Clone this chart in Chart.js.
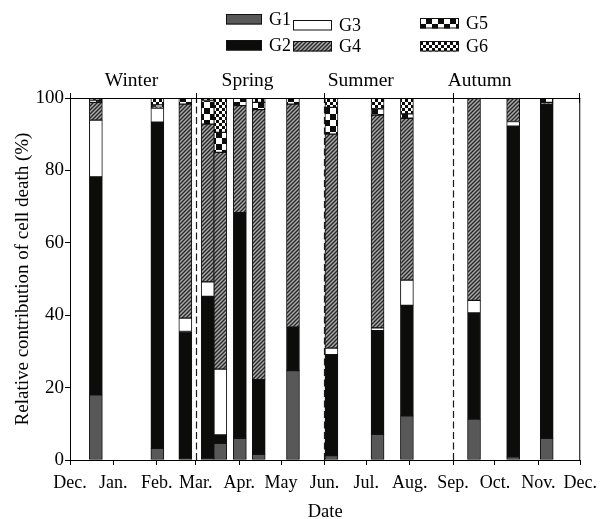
<!DOCTYPE html>
<html>
<head>
<meta charset="utf-8">
<script src="https://cdn.jsdelivr.net/npm/chart.js@4.4.1/dist/chart.umd.min.js"></script>
<style>
  html, body { margin: 0; padding: 0; background: #fff; }
  #wrap { width: 604px; height: 519px; }
</style>
</head>
<body>
<div id="wrap"><canvas id="c" width="604" height="519"></canvas></div>
<script>
// Sampling dates, counted in days from 1 December
const sampleDays = [18.5, 62.5, 82.5, 98.5, 107.5, 121.5, 135, 159.5, 187, 220, 241, 289, 317, 341];

// Relative contribution of each group (%), bottom to top of every bar
const g1 = [18.0, 3.2, 0, 0, 4.6, 6.0, 1.6, 24.7, 1.2, 7.1, 12.2, 11.3, 0.9, 6.0];
const g2 = [60.2, 90.1, 35.5, 45.2, 2.3, 62.3, 20.6, 12.0, 27.9, 28.6, 30.5, 29.3, 91.3, 92.3];
const g3 = [15.7, 3.9, 3.7, 4.0, 18.2, 0, 0, 0, 1.8, 0.8, 7.0, 3.5, 1.3, 0];
const g4 = [4.9, 0.3, 59.1, 43.6, 59.9, 29.6, 74.6, 61.6, 59.1, 58.8, 44.7, 55.9, 6.5, 0.5];
const g5 = [0.6, 0.6, 1.7, 6.5, 5.5, 2.1, 2.0, 1.7, 7.4, 1.7, 1.2, 0, 0, 1.2];
const g6 = [0.6, 1.9, 0, 0.7, 9.5, 0, 1.2, 0, 2.6, 3.0, 4.4, 0, 0, 0];
const groupNames = ['G1', 'G2', 'G3', 'G4', 'G5', 'G6'];

// Month axis: first day of each month, counted from 1 December
const monthStarts = [0, 31, 62, 90, 121, 151, 182, 212, 243, 274, 304, 335, 365];
const monthLabels = ['Dec.', 'Jan.', 'Feb.', 'Mar.', 'Apr.', 'May', 'Jun.', 'Jul.', 'Aug.', 'Sep.', 'Oct.', 'Nov.', 'Dec.'];

// Seasons: boundaries and where each name sits
const seasonBounds = [0, 90, 182, 274, 365];
const seasonNames = ['Winter', 'Spring', 'Summer', 'Autumn'];
const seasonLabelDays = [44, 127, 208, 293];

const yTicks = [0, 20, 40, 60, 80, 100];

const SERIF = "'Liberation Serif', 'Times New Roman', serif";
const canvas = document.getElementById('c');
const mainCtx = canvas.getContext('2d');

function makePattern(w, h, paint) {
  const t = document.createElement('canvas');
  t.width = w; t.height = h;
  const x = t.getContext('2d');
  paint(x, w, h);
  return mainCtx.createPattern(t, 'repeat');
}

const hatch = makePattern(4, 4, (x, w, h) => {
  x.fillStyle = '#a9a9a9'; x.fillRect(0, 0, w, h);
  x.strokeStyle = '#262626'; x.lineWidth = 1.35;
  x.beginPath();
  x.moveTo(-1, 5); x.lineTo(5, -1);
  x.moveTo(-1, 1); x.lineTo(1, -1);
  x.moveTo(3, 5); x.lineTo(5, 3);
  x.stroke();
});

function checker(cell) {
  return makePattern(cell * 2, cell * 2, (x, w, h) => {
    x.fillStyle = '#fff'; x.fillRect(0, 0, w, h);
    x.fillStyle = '#0c0c0a';
    x.fillRect(0, 0, cell, cell);
    x.fillRect(cell, cell, cell, cell);
  });
}

const fills = ['#585858', '#0c0c0a', '#ffffff', hatch, checker(6), checker(3)];
const series = [g1, g2, g3, g4, g5, g6];

const datasets = series.map((vals, i) => ({
  label: groupNames[i],
  data: vals.map((v, k) => ({ x: sampleDays[k], y: v })),
  backgroundColor: fills[i],
  borderColor: '#111',
  borderWidth: 1,
  borderSkipped: false,
  barThickness: 13
}));

const decor = {
  id: 'decor',
  afterDatasetsDraw(chart) {
    const { ctx, chartArea: a, scales: { x } } = chart;
    ctx.save();
    // season dividers
    ctx.strokeStyle = '#1a1a1a';
    ctx.lineWidth = 1.2;
    ctx.setLineDash([7, 3.5]);
    seasonBounds.slice(1, -1).forEach(d => {
      const px = Math.round(x.getPixelForValue(d)) + 0.5;
      ctx.beginPath(); ctx.moveTo(px, a.bottom); ctx.lineTo(px, a.top); ctx.stroke();
    });
    ctx.setLineDash([]);
    // top and right frame
    ctx.strokeStyle = '#000';
    ctx.lineWidth = 1;
    ctx.beginPath();
    ctx.moveTo(a.left, a.top + 0.5); ctx.lineTo(a.right, a.top + 0.5);
    ctx.moveTo(a.right - 0.5, a.top); ctx.lineTo(a.right - 0.5, a.bottom);
    ctx.stroke();
    // season ticks crossing the top frame
    seasonBounds.forEach(d => {
      const px = Math.round(x.getPixelForValue(d)) + (d === 365 ? -0.5 : 0.5);
      ctx.beginPath(); ctx.moveTo(px, a.top - 5); ctx.lineTo(px, a.top + 5); ctx.stroke();
    });
    // season names
    ctx.fillStyle = '#000';
    ctx.font = '19.5px ' + SERIF;
    ctx.textAlign = 'center';
    ctx.textBaseline = 'alphabetic';
    seasonNames.forEach((n, i) => ctx.fillText(n, x.getPixelForValue(seasonLabelDays[i]), 86));
    // legend: three columns of two
    const cols = [226, 293, 420];
    const widths = [36, 39, 39];
    const tops = [14, 40, 20, 41, 18, 41];
    ctx.font = '18px ' + SERIF;
    ctx.textAlign = 'left';
    ctx.textBaseline = 'middle';
    chart.data.datasets.forEach((ds, i) => {
      const c = Math.floor(i / 2);
      const sx = cols[c], sw = widths[c];
      const sy = tops[i];
      ctx.fillStyle = ds.backgroundColor;
      ctx.fillRect(sx, sy, sw, 10.5);
      ctx.strokeStyle = '#111';
      ctx.strokeRect(sx + 0.5, sy + 0.5, sw - 1, 9.5);
      ctx.fillStyle = '#000';
      ctx.fillText(ds.label, sx + sw + 7, sy + 6);
    });
    ctx.restore();
  }
};

new Chart(canvas, {
  type: 'bar',
  data: { datasets },
  options: {
    responsive: false,
    animation: false,
    devicePixelRatio: 1,
    layout: { padding: { top: 98, right: 20, bottom: 0, left: 0 } },
    plugins: { legend: { display: false }, tooltip: { enabled: false } },
    scales: {
      x: {
        type: 'linear',
        stacked: true,
        min: 0,
        max: 365,
        offset: false,
        afterBuildTicks: s => { s.ticks = monthStarts.map(v => ({ value: v })); },
        afterFit: s => { s.height = 59; },
        grid: { drawOnChartArea: false, offset: false, tickLength: 5, color: '#000', tickWidth: 1 },
        border: { display: true, color: '#000', width: 1 },
        ticks: {
          autoSkip: false, maxRotation: 0, minRotation: 0, padding: 7,
          color: '#000', font: { family: SERIF, size: 18 },
          callback: (v, i) => monthLabels[i]
        },
        title: {
          display: true, text: 'Date', color: '#000',
          font: { family: SERIF, size: 18.5 }, padding: { top: 0, bottom: -4 }
        }
      },
      y: {
        stacked: true,
        min: 0,
        max: 100,
        afterBuildTicks: s => { s.ticks = yTicks.map(v => ({ value: v })); },
        afterFit: s => { s.width = 70; },
        grid: { drawOnChartArea: false, tickLength: 5, color: '#000' },
        border: { display: true, color: '#000', width: 1 },
        ticks: { padding: 1, color: '#000', font: { family: SERIF, size: 19 } },
        title: {
          display: true, text: 'Relative contribution of cell death (%)', color: '#000',
          font: { family: SERIF, size: 19 }, padding: { top: 12, bottom: 0 }
        }
      }
    }
  },
  plugins: [decor]
});
</script>
</body>
</html>
